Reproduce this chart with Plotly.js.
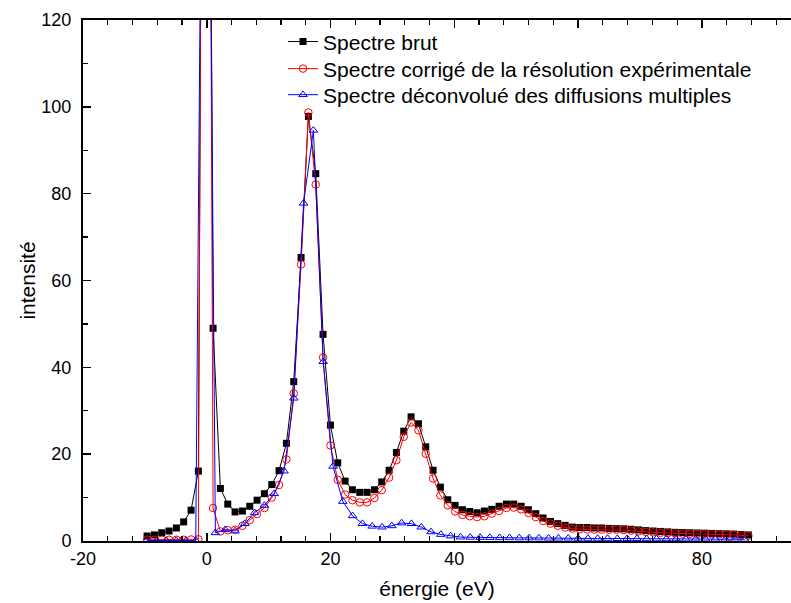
<!DOCTYPE html>
<html>
<head>
<meta charset="utf-8">
<script src="https://cdn.plot.ly/plotly-3.0.1.min.js"></script>
<style>
html,body{margin:0;padding:0;background:#fff;overflow:hidden;}
#chart{width:791px;height:603px;}
</style>
</head>
<body>
<div id="chart"></div>
<script>
// Energy grid of the raw and resolution-corrected spectra (eV)
const energyBrut = [-9.65,-8.47,-7.28,-6.10,-4.91,-3.73,-2.54,-1.36,-0.17,1.02,
  2.20,3.39,4.57,5.76,6.94,8.13,9.31,10.50,11.68,12.87,
  14.05,15.24,16.42,17.61,18.79,19.98,21.16,22.35,23.53,24.72,
  25.90,27.09,28.27,29.46,30.64,31.83,33.01,34.20,35.38,36.57,
  37.75,38.94,40.12,41.31,42.49,43.68,44.86,46.05,47.23,48.42,
  49.60,50.79,51.97,53.16,54.34,55.53,56.71,57.90,59.08,60.27,
  61.45,62.64,63.82,65.01,66.19,67.38,68.56,69.75,70.93,72.12,
  73.30,74.49,75.67,76.86,78.04,79.23,80.41,81.60,82.78,83.97,
  85.15,86.34,87.52];

// Spectre brut
const spectreBrut = [1.15,1.4,1.9,2.3,3.0,4.4,7.1,16.1,360,49,
  12.1,8.5,6.7,6.9,8.0,9.4,10.9,13.0,16.2,22.5,
  36.7,65.3,97.8,84.6,47.6,26.7,18.0,13.8,11.8,11.2,
  11.2,11.8,13.6,16.3,20.4,25.3,28.6,27.0,21.7,16.3,
  12.4,9.5,8.2,7.2,6.8,6.5,6.9,7.3,8.0,8.5,
  8.5,8.0,7.2,6.3,5.3,4.5,4.0,3.6,3.2,3.1,
  3.1,3.0,3.0,2.9,2.85,2.8,2.7,2.55,2.4,2.3,
  2.2,2.1,2.0,1.95,1.9,1.85,1.8,1.75,1.7,1.65,
  1.6,1.5,1.4];

// Spectre corrigé de la résolution expérimentale
const spectreCorrige = [0.3,0.3,0.3,0.3,0.3,0.3,0.35,0.4,400,7.6,
  2.2,2.5,2.6,3.5,4.8,6.2,7.6,10.0,12.9,18.8,
  34.0,63.7,98.7,82.1,42.3,22.0,14.1,10.7,9.4,8.9,
  8.9,9.9,11.7,14.6,18.6,24.0,27.3,25.5,20.1,14.4,
  10.5,8.2,6.8,6.0,5.7,5.5,5.7,6.3,6.9,7.6,
  7.7,7.3,6.45,5.5,4.6,4.0,3.5,3.1,2.85,2.7,
  2.65,2.6,2.6,2.6,2.6,2.5,2.4,2.2,2.1,2.0,
  1.9,1.8,1.75,1.7,1.65,1.6,1.6,1.55,1.5,1.45,
  1.4,1.3,1.2];

// Energy grid of the deconvolved spectrum (eV)
const energyDeconv = [-9.70,-8.12,-6.54,-4.95,-3.37,-1.78,-0.20,1.39,2.97,4.56,
  6.14,7.72,9.31,10.89,12.48,14.06,15.64,17.23,18.81,20.40,
  21.98,23.56,25.15,26.73,28.32,29.90,31.48,33.07,34.65,36.24,
  37.82,39.40,40.99,42.57,44.16,45.74,47.32,48.91,50.49,52.08,
  53.66,55.24,56.83,58.41,60.00,61.58,63.16,64.75,66.33,67.92,
  69.50,71.08,72.67,74.25,75.84,77.42,79.00,80.59,82.17,83.76,
  85.34,86.92];

// Spectre déconvolué des diffusions multiples
const spectreDeconv = [0.1,0.1,0.1,0.1,0.1,0.1,280,1.9,2.6,2.3,
  4.0,6.5,8.2,10.9,16.1,32.9,77.8,94.6,41.3,17.2,
  9.1,5.8,4.0,3.4,3.2,3.5,4.15,4.0,3.2,2.1,
  1.5,1.15,0.9,0.85,0.8,0.8,0.75,0.75,0.7,0.7,
  0.7,0.65,0.65,0.65,0.6,0.6,0.6,0.6,0.55,0.55,
  0.55,0.5,0.5,0.5,0.5,0.45,0.45,0.45,0.4,0.4,
  0.4,0.4];

const seriesNames = ["Spectre brut",
  "Spectre corrigé de la résolution expérimentale",
  "Spectre déconvolué des diffusions multiples"];

const xTickVals = [-20,0,20,40,60,80];
const xTickText = ["-20","0","20","40","60","80"];
const yTickVals = [0,20,40,60,80,100,120];
const yTickText = ["0","20","40","60","80","100","120"];

const FONT = "Liberation Sans, Arial, Helvetica, sans-serif";

const traces = [
  {x: energyBrut, y: spectreBrut, name: seriesNames[0], type: "scatter", mode: "lines+markers",
   legend: "legend",
   line: {color: "#000000", width: 1},
   marker: {symbol: "square", size: 7, color: "#000000"}},
  {x: energyBrut, y: spectreCorrige, name: seriesNames[1], type: "scatter", mode: "lines+markers",
   legend: "legend2",
   line: {color: "#ff0000", width: 1},
   marker: {symbol: "circle-open", size: 7.5, color: "#ff0000", line: {width: 1}}},
  {x: energyDeconv, y: spectreDeconv, name: seriesNames[2], type: "scatter", mode: "lines+markers",
   legend: "legend3",
   line: {color: "#0000ff", width: 1},
   marker: {symbol: "triangle-up-open", size: 7.5, color: "#0000ff", line: {width: 1}}}
];

function legendAt(yFrac) {
  return {x: 0.2825, y: yFrac, xanchor: "left", yanchor: "middle",
    bgcolor: "rgba(0,0,0,0)", borderwidth: 0,
    font: {family: FONT, size: 21, color: "#000"}, itemwidth: 30};
}

const layout = {
  width: 791, height: 603,
  margin: {l: 83, r: 0, t: 20, b: 62, pad: 0},
  paper_bgcolor: "#ffffff", plot_bgcolor: "#ffffff",
  font: {family: FONT, size: 18, color: "#000000"},
  showlegend: true,
  legend: legendAt(0.958),
  legend2: legendAt(0.906),
  legend3: legendAt(0.856),
  xaxis: {range: [-20, 94.4], showgrid: false, zeroline: false,
    showline: true, linecolor: "#000", linewidth: 2, mirror: "allticks",
    ticks: "inside", ticklen: 8, tickwidth: 1.5, tickcolor: "#000",
    tickmode: "array", tickvals: xTickVals, ticktext: xTickText,
    tickfont: {family: FONT, size: 18, color: "#000"},
    minor: {ticks: "inside", ticklen: 5, tickwidth: 1.2, tickcolor: "#000", dtick: 4, tick0: 0, showgrid: false},
    title: {text: "énergie (eV)", font: {family: FONT, size: 21, color: "#000"}, standoff: 14}},
  yaxis: {range: [0, 120], showgrid: false, zeroline: false,
    showline: true, linecolor: "#000", linewidth: 2, mirror: false,
    ticks: "inside", ticklen: 8, tickwidth: 1.5, tickcolor: "#000",
    tickmode: "array", tickvals: yTickVals, ticktext: yTickText,
    ticklabelstandoff: 6,
    tickfont: {family: FONT, size: 18, color: "#000"},
    minor: {ticks: "inside", ticklen: 5, tickwidth: 1.2, tickcolor: "#000", dtick: 10, tick0: 0, showgrid: false},
    title: {text: "intensité", font: {family: FONT, size: 21, color: "#000"}, standoff: 0}}
};

Plotly.newPlot("chart", traces, layout, {displayModeBar: false, staticPlot: true});
</script>
</body>
</html>
